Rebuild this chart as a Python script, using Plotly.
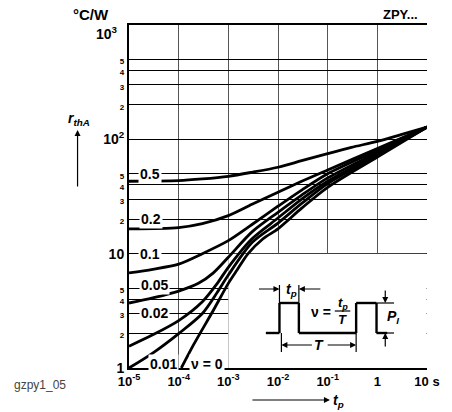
import plotly.graph_objects as go
import math

# ---------------- data ----------------
t_05 = [1e-5, 1e-4, 3e-4, 1e-3, 3e-3, 1e-2, 3e-2, 1e-1, 3e-1, 1, 3, 10]
r_05 = [43, 43.5, 45, 47.5, 51.5, 57, 65, 75, 85, 96, 110, 128]

t_02 = [1e-5, 1e-4, 3e-4, 1e-3, 3e-3, 1e-2, 3e-2, 1e-1, 1, 10]
r_02 = [16.5, 16.9, 18.3, 21.5, 27, 34.5, 43, 54, 83, 128]

t_01 = [1e-5, 3e-5, 1e-4, 3e-4, 1e-3, 3e-3, 1e-2, 3e-2, 1e-1, 1, 10]
r_01 = [6.8, 7.3, 8.1, 10, 13, 18, 26, 36, 50, 80, 128]

t_005 = [1e-5, 3e-5, 1e-4, 2.5e-4, 5e-4, 1e-3, 3e-3, 1e-2, 3e-2, 1e-1, 1, 10]
r_005 = [3.7, 4.1, 4.7, 5.5, 6.8, 9.3, 15.5, 23, 32.5, 46, 77, 128]

t_002 = [1e-5, 3e-5, 1e-4, 3e-4, 6e-4, 1e-3, 3e-3, 1e-2, 3e-2, 1e-1, 1, 10]
r_002 = [1.55, 1.95, 2.6, 3.8, 5.5, 7.6, 13.5, 20.5, 30, 43, 74, 128]

t_001 = [1e-5, 3e-5, 1e-4, 3e-4, 6e-4, 1e-3, 3e-3, 1e-2, 3e-2, 1e-1, 1, 10]
r_001 = [1.0, 1.35, 2.0, 3.0, 4.6, 6.5, 12.5, 18.5, 27.5, 41, 72, 128]

t_0 = [1.13e-4, 2e-4, 5e-4, 1e-3, 1.5e-3, 2.5e-3, 5e-3, 1e-2, 3e-2, 1e-1, 1, 10]
r_0 = [1.0, 1.6, 3.2, 5.5, 7.2, 10, 13.5, 16.5, 25, 38, 70, 128]

curves = [(t_05, r_05), (t_02, r_02), (t_01, r_01), (t_005, r_005),
          (t_002, r_002), (t_001, r_001), (t_0, r_0)]

x_tickvals = [1e-5, 1e-4, 1e-3, 1e-2, 1e-1, 1, 10]
x_ticktext = ["10<sup>-5</sup>", "10<sup>-4</sup>", "10<sup>-3</sup>", "10<sup>-2</sup>",
              "10<sup>-1</sup>", "1", "10 s"]

y_tickvals = [1, 2, 3, 4, 5, 10, 20, 30, 40, 50, 100, 200, 300, 400, 500, 1000]
y_ticktext = ["1", "2", "3", "4", "5", "10", "2", "3", "4", "5",
              "10<sup>2</sup>", "2", "3", "4", "5", "10<sup>3</sup>"]
y_major = {"1", "10", "10<sup>2</sup>"}

# curve labels: (text, t position, r position)
label_text = ["0.5", "0.2", "0.1", "0.05", "0.02", "0.01", "ν = 0"]
label_t = [2.7e-5, 2.8e-5, 2.7e-5, 3.2e-5, 3.2e-5, 5.0e-5, 3.8e-4]
label_r = [50, 20, 10, 5.3, 3, 1.08, 1.08]

# ---------------- layout helpers ----------------
W, H = 452, 412
L, R, T, B = 129, 16, 25, 44
PW, PH = W - L - R, H - T - B
FONT = "Liberation Sans"


def P(px):
    return (px - L) / PW


def Q(py):
    return (H - B - py) / PH


fig = go.Figure()

for t, r in curves:
    fig.add_trace(go.Scatter(x=t, y=r, mode="lines",
                             line=dict(color="black", width=2.8, shape="spline", smoothing=0.8),
                             hoverinfo="skip", showlegend=False))

# white inset box region
fig.add_shape(type="rect", xref="x", yref="y", x0=1e-3, x1=10 ** 0.993, y0=1, y1=10,
              fillcolor="white", line=dict(width=0), layer="between")

# curve labels
for txt, t, r in zip(label_text, label_t, label_r):
    fig.add_annotation(x=math.log10(t), y=math.log10(r), xref="x", yref="y",
                       text="<b>%s</b>" % txt, showarrow=False, bgcolor="white",
                       borderpad=1, font=dict(family=FONT, size=14, color="black"))

# ---------------- inset pulse diagram ----------------
wave = [(270, 333), (284, 333), (284, 303), (304, 303), (304, 333), (363, 333),
        (363, 303), (384, 303), (384, 333), (395, 333)]
for (xa, ya), (xb, yb) in zip(wave[:-1], wave[1:]):
    fig.add_shape(type="line", xref="paper", yref="paper", x0=P(xa), y0=Q(ya), x1=P(xb), y1=Q(yb),
                  line=dict(color="black", width=2.4))
thin = [((284, 285), (284, 303)), ((304, 285), (304, 303)),
        ((286, 333), (286, 352)), ((363, 333), (363, 352)),
        ((384, 303), (402, 303)), ((384, 333), (402, 333)),
        ((341, 311), (357, 311))]
for (xa, ya), (xb, yb) in thin:
    fig.add_shape(type="line", xref="paper", yref="paper", x0=P(xa), y0=Q(ya), x1=P(xb), y1=Q(yb),
                  line=dict(color="black", width=1.2))

arrows = [((284, 289), (262, 289)), ((304, 289), (327, 289)),
          ((286, 345), (318, 345)), ((363, 345), (333, 345)),
          ((393, 303), (393, 289)), ((393, 333), (393, 348)),
          ((336, 400), (257, 400)), ((76, 130), (76, 188))]
for (hx, hy), (tx, ty) in arrows:
    fig.add_annotation(x=P(hx), y=Q(hy), xref="paper", yref="paper", text="",
                       showarrow=True, ax=tx - hx, ay=ty - hy, axref="pixel", ayref="pixel",
                       arrowhead=2, arrowsize=1.0, arrowwidth=1.2, arrowcolor="black")

texts = [
    ("<b><i>t<sub>p</sub></i></b>", 296, 290, 14),
    ("<b>ν =</b>", 327, 312, 14),
    ("<b><i>t<sub>p</sub></i></b>", 349, 303, 13),
    ("<b><i>T</i></b>", 349, 319, 13),
    ("<b><i>T</i></b>", 325, 345, 14),
    ("<b><i>P<sub>I</sub></i></b>", 401, 317, 14),
    ("<b><i>t<sub>p</sub></i></b>", 345, 401, 14),
    ("<b><i>r<sub>thA</sub></i></b>", 78, 119, 14),
    ("<b>°C/W</b>", 90, 14, 15),
    ("<b>ZPY...</b>", 409, 14, 13),
]
for txt, x, y, s in texts:
    fig.add_annotation(x=P(x), y=Q(y), xref="paper", yref="paper", text=txt, showarrow=False,
                       xanchor="center", yanchor="middle",
                       font=dict(family=FONT, size=s, color="black"))
fig.add_annotation(x=P(37), y=Q(385), xref="paper", yref="paper", text="gzpy1_05",
                   showarrow=False, xanchor="center", yanchor="middle",
                   font=dict(family=FONT, size=12, color="#444"))
# top decade label sits a little below its gridline in the reference
fig.add_annotation(x=P(120), y=Q(33), xref="paper", yref="paper", text="<b>10<sup>3</sup></b>",
                   showarrow=False, xanchor="right", yanchor="middle",
                   font=dict(family=FONT, size=14, color="black"))


def ylab(t):
    if t == "10<sup>3</sup>":
        return ""
    if t in y_major:
        return t
    return "<span style='font-size:8px'>%s</span>" % t


# ---------------- axes ----------------
fig.update_xaxes(type="log", range=[-5, 1], tickvals=x_tickvals, ticktext=x_ticktext,
                 showgrid=True, gridcolor="#555", gridwidth=1.3,
                 showline=True, linecolor="black", linewidth=2, mirror=True,
                 ticks="", zeroline=False,
                 tickfont=dict(family=FONT, size=13, color="black", weight="bold"))
fig.update_yaxes(type="log", range=[0, 3], tickvals=y_tickvals,
                 ticktext=[ylab(t) for t in y_ticktext],
                 showgrid=True, gridcolor="black", gridwidth=1.4,
                 showline=True, linecolor="black", linewidth=2, mirror=False,
                 ticks="", zeroline=False,
                 tickfont=dict(family=FONT, size=14, color="black", weight="bold"))

fig.update_layout(width=W, height=H, autosize=False,
                  margin=dict(l=L, r=R, t=T, b=B),
                  plot_bgcolor="white", paper_bgcolor="white",
                  showlegend=False)

fig.write_html("out.html", config={"displayModeBar": False},
               post_script="document.body.style.margin='0';")
